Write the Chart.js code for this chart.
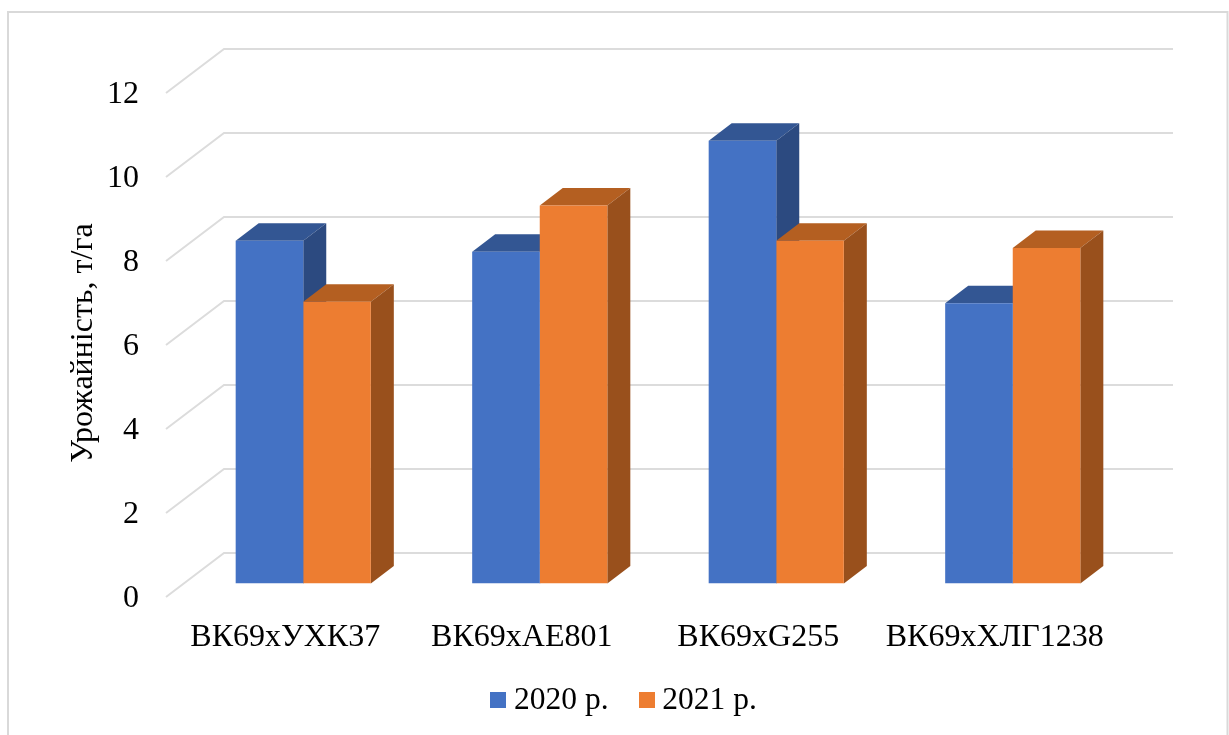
<!DOCTYPE html>
<html>
<head>
<meta charset="utf-8">
<style>html,body{margin:0;padding:0;background:#fff;overflow:hidden}#box{width:1229px;height:735px}</style>
<script src="https://cdn.jsdelivr.net/npm/chart.js@4"></script>
</head>
<body>
<div id="box"><canvas id="c" width="1229" height="735"></canvas></div>
<script>
const categories = ['ВК69хУХК37', 'ВК69хАЕ801', 'ВК69хG255', 'ВК69хХЛГ1238'];
const series2020 = [8.16, 7.9, 10.54, 6.67];
const series2021 = [6.71, 9.0, 8.16, 7.99];
const seriesNames = ['2020 р.', '2021 р.'];
const axisTitle = 'Урожайність, т/га';

const FONT = '"Liberation Serif", "Times New Roman", serif';
const FONT_SIZE = 32;
const LEGEND_SIZE = 31.5;
const GRID = '#dcdcdc';
const FACES = [
  { front: '#4472C4', side: '#2C4A80', top: '#335693' },
  { front: '#ED7D31', side: '#99501C', top: '#B45F21' }
];
// Depth of a column, and where the floor and back wall sit relative to the column plane
const DEPTH = { x: 23, y: -17.5 };
const WALL = { frontX: 166, frontDy: 13.5, backX: 224, backDy: -30.5, endX: 1173 };

function legendSwatch(color) {
  const s = document.createElement('canvas');
  s.width = 16; s.height = 16;
  const g = s.getContext('2d');
  g.fillStyle = color;
  g.fillRect(0, 0, 16, 16);
  return s;
}

function poly(ctx, pts, color) {
  ctx.beginPath();
  pts.forEach((p, i) => i ? ctx.lineTo(p[0], p[1]) : ctx.moveTo(p[0], p[1]));
  ctx.closePath();
  ctx.fillStyle = color;
  ctx.fill();
}

const frame3d = {
  id: 'frame3d',
  // category labels hang below the axis box, so widen the box they are clipped to
  afterLayout(chart) {
    chart.scales.x.bottom += 24;
  },
  beforeDraw(chart) {
    const { ctx, scales } = chart;
    ctx.save();
    // outer chart border
    ctx.strokeStyle = '#d9d9d9';
    ctx.lineWidth = 2;
    ctx.strokeRect(8, 12, 1219.5, 740);
    // back wall gridlines with their slanted side-wall segments
    ctx.strokeStyle = GRID;
    ctx.lineWidth = 2;
    scales.y.ticks.forEach(t => {
      const py = scales.y.getPixelForValue(t.value);
      ctx.beginPath();
      ctx.moveTo(WALL.frontX, py + WALL.frontDy);
      ctx.lineTo(WALL.backX, py + WALL.backDy);
      ctx.lineTo(WALL.endX, py + WALL.backDy);
      ctx.stroke();
    });
    // rotated value-axis caption
    ctx.translate(84, 343);
    ctx.rotate(-Math.PI / 2);
    ctx.font = FONT_SIZE + 'px ' + FONT;
    ctx.fillStyle = '#000';
    ctx.textAlign = 'center';
    ctx.textBaseline = 'middle';
    ctx.fillText(axisTitle, 0, 0);
    ctx.restore();
  },
  // top and side faces of every series go under all of the front faces
  beforeDatasetsDraw(chart) {
    const { ctx } = chart;
    const baseY = chart.scales.y.getPixelForValue(0);
    FACES.forEach((faces, i) => {
      chart.getDatasetMeta(i).data.forEach(bar => {
        const p = bar.getProps(['x', 'y', 'width'], true);
        const l = p.x - p.width / 2, r = p.x + p.width / 2, t = p.y;
        poly(ctx, [[l, t], [r, t], [r + DEPTH.x, t + DEPTH.y], [l + DEPTH.x, t + DEPTH.y]], faces.top);
        poly(ctx, [[r, t], [r + DEPTH.x, t + DEPTH.y], [r + DEPTH.x, baseY + DEPTH.y], [r, baseY]], faces.side);
      });
    });
  }
};

new Chart(document.getElementById('c'), {
  type: 'bar',
  data: {
    labels: categories,
    datasets: [
      { label: seriesNames[0], data: series2020, backgroundColor: FACES[0].front },
      { label: seriesNames[1], data: series2021, backgroundColor: FACES[1].front }
    ]
  },
  options: {
    responsive: false,
    animation: false,
    events: [],
    barPercentage: 1,
    categoryPercentage: 1 / 1.75,
    layout: { padding: { top: 79.5, left: 26, right: 0, bottom: 9 } },
    scales: {
      x: {
        grid: { display: false, drawTicks: false },
        border: { display: false },
        ticks: {
          color: '#000', font: { family: FONT, size: FONT_SIZE },
          padding: 34.5, labelOffset: -18, maxRotation: 0, autoSkip: false
        },
        afterFit(s) { s.height = 63; }
      },
      y: {
        min: 0, max: 12,
        grid: { display: false, drawTicks: false },
        border: { display: false },
        ticks: {
          stepSize: 2, color: '#000', font: { family: FONT, size: FONT_SIZE },
          padding: 46, labelOffset: 15.5
        },
        afterFit(s) { s.width = 159; }
      },
      // empty axis that reserves the margin right of the columns
      spacer: {
        position: 'right', min: 0, max: 1,
        grid: { display: false, drawTicks: false },
        border: { display: false },
        ticks: { display: false },
        afterFit(s) { s.width = 98; }
      }
    },
    plugins: {
      tooltip: { enabled: false },
      legend: {
        position: 'bottom',
        labels: {
          color: '#000', font: { family: FONT, size: LEGEND_SIZE },
          usePointStyle: true, pointStyleWidth: 0.01, padding: 38,
          generateLabels(chart) {
            return Chart.defaults.plugins.legend.labels.generateLabels(chart).map((it, i) => {
              it.pointStyle = legendSwatch(FACES[i].front);
              return it;
            });
          }
        }
      }
    }
  },
  plugins: [frame3d]
});
</script>
</body>
</html>
